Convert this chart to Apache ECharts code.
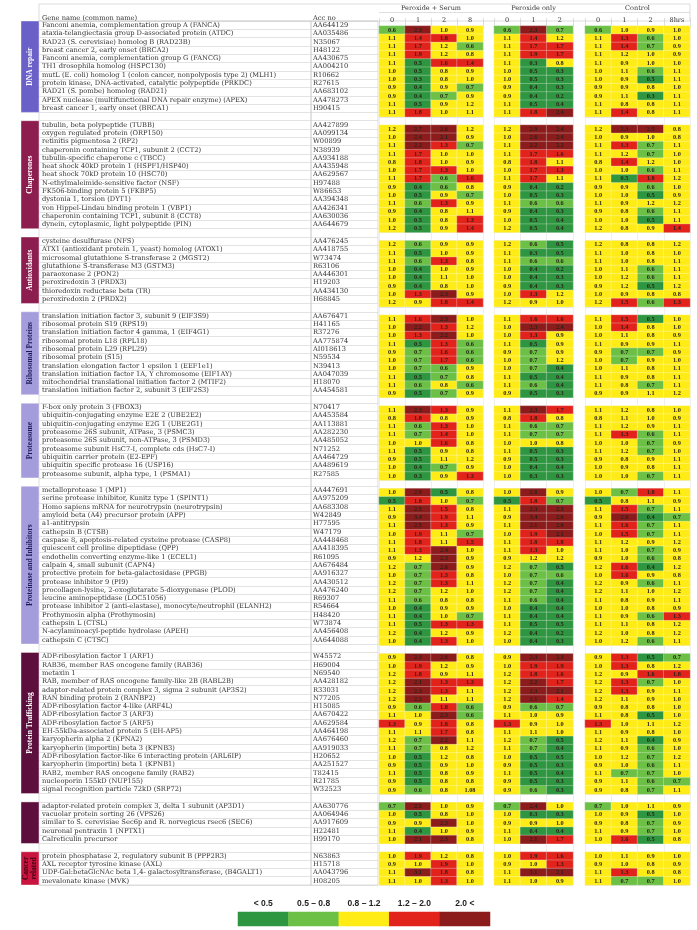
<!DOCTYPE html>
<html><head><meta charset="utf-8">
<script src="https://cdn.jsdelivr.net/npm/echarts@6/dist/echarts.min.js"></script>
<style>html,body{margin:0;padding:0;background:#fff}#c{width:697px;height:930px}</style>
</head><body><div id="c"></div><script>
// ---------------- DATA ----------------
const groupNames = ['DNA repair','Chaperones','Antioxidants','Ribosomal Proteins','Proteasome','Proteinase and Inhibitors','Protein Trafficking','','Cancer\nrelated'];
const groupSizes = [11,13,8,10,9,19,17,5,4];
const serumHours = ['0','1','2','8'];
const peroxideHours = ['0','1','2'];
const controlHours = ['0','1','2','8hrs'];
const blockTitles = ['Peroxide + Serum','Peroxide only','Control'];
const legendLabels = ['< 0.5','0.5 \u2013 0.8','0.8 \u2013 1.2','1.2 \u2013 2.0','2.0 <'];
const legendValues = [0.3,0.65,1.0,1.6,2.5];

const geneNames = [
'Fanconi anemia, complementation group A (FANCA)','ataxia-telangiectasia group D-associated protein (ATDC)','RAD23 (S. cerevisiae) homolog B (RAD23B)','breast cancer 2, early onset (BRCA2)','Fanconi anemia, complementation group G (FANCG)','TH1 drosophila homolog (HSPC130)','mutL (E. coli) homolog 1 (colon cancer, nonpolyposis type 2) (MLH1)','protein kinase, DNA-activated, catalytic polypeptide (PRKDC)','RAD21 (S. pombe) homolog (RAD21)','APEX nuclease (multifunctional DNA repair enzyme) (APEX)','breast cancer 1, early onset (BRCA1)',
'tubulin, beta polypeptide (TUBB)','oxygen regulated protein (ORP150)','retinitis pigmentosa 2 (RP2)','chaperonin containing TCP1, subunit 2 (CCT2)','tubulin-specific chaperone c (TBCC)','heat shock 40kD protein 1 (HSPF1/HSP40)','heat shock 70kD protein 10 (HSC70)','N-ethylmaleimide-sensitive factor (NSF)','FK506-binding protein 5 (FKBP5)','dystonia 1, torsion (DYT1)','von Hippel-Lindau binding protein 1 (VBP1)','chaperonin containing TCP1, subunit 8 (CCT8)','dynein, cytoplasmic, light polypeptide (PIN)',
'cysteine desulfurase (NFS)','ATX1 (antioxidant protein 1, yeast) homolog (ATOX1)','microsomal glutathione S-transferase 2 (MGST2)','glutathione S-transferase M3 (GSTM3)','paraoxonase 2 (PON2)','peroxiredoxin 3 (PRDX3)','thioredoxin reductase beta (TR)','peroxiredoxin 2 (PRDX2)',
'translation initiation factor 3, subunit 9 (EIF3S9)','ribosomal protein S19 (RPS19)','translation initiation factor 4 gamma, 1 (EIF4G1)','ribosomal protein L18 (RPL18)','ribosomal protein L29 (RPL29)','ribosomal protein (S15)','translation elongation factor 1 epsilon 1 (EEF1e1)','translation initiation factor 1A, Y chromosome (EIF1AY)','mitochondrial translational initiation factor 2 (MTIF2)','translation initiation factor 2, subunit 3 (EIF2S3)',
'F-box only protein 3 (FBOX3)','ubiquitin-conjugating enzyme E2E 2 (UBE2E2)','ubiquitin-conjugating enzyme E2G 1 (UBE2G1)','proteasome 26S subunit, ATPase, 3 (PSMC3)','proteasome 26S subunit, non-ATPase, 3 (PSMD3)','proteasome subunit HsC7-I, complete cds (HsC7-I)','ubiquitin carrier protein (E2-EPF)','ubiquitin specific protease 16 (USP16)','proteasome subunit, alpha type, 1 (PSMA1)',
'metalloprotease 1 (MP1)','serine protease inhibitor, Kunitz type 1 (SPINT1)','Homo sapiens mRNA for neurotrypsin (neurotrypsin)','amyloid beta (A4) precursor protein (APP)','a1-antitrypsin','cathepsin B (CTSB)','caspase 8, apoptosis-related cysteine protease (CASP8)','quiescent cell proline dipeptidase (QPP)','endothelin converting enzyme-like 1 (ECEL1)','calpain 4, small subunit (CAPN4)','protective protein for beta-galactosidase (PPGB)','protease inhibitor 9 (PI9)','procollagen-lysine, 2-oxoglutarate 5-dioxygenase (PLOD)','leucine aminopeptidase (LOC51056)','protease inhibitor 2 (anti-elastase), monocyte/neutrophil (ELANH2)','Prothymosin alpha (Prothymosin)','cathepsin L (CTSL)','N-acylaminoacyl-peptide hydrolase (APEH)','cathepsin C (CTSC)',
'ADP-ribosylation factor 1 (ARF1)','RAB36, member RAS oncogene family (RAB36)','metaxin 1','RAB, member of RAS oncogene family-like 2B (RABL2B)','adaptor-related protein complex 3, sigma 2 subunit (AP3S2)','RAN binding protein 2 (RANBP2)','ADP-ribosylation factor 4-like (ARF4L)','ADP-ribosylation factor 3 (ARF3)','ADP-ribosylation factor 5 (ARF5)','EH-55kDa-associated protein 5 (EH-AP5)','karyopherin alpha 2 (KPNA2)','karyopherin (importin) beta 3 (KPNB3)','ADP-ribosylation factor-like 6 interacting protein (ARL6IP)','karyopherin (importin) beta 1 (KPNB1)','RAB2, member RAS oncogene family (RAB2)','nucleoporin 155kD (NUP155)','signal recognition particle 72kD (SRP72)',
'adaptor-related protein complex 3, delta 1 subunit (AP3D1)','vacuolar protein sorting 26 (VPS26)','similar to S. cerevisiae Sec6p and R. norvegicus rsec6 (SEC6)','neuronal pentraxin 1 (NPTX1)','Calreticulin precursor',
'protein phosphatase 2, regulatory subunit B (PPP2R3)','AXL receptor tyrosine kinase (AXL)','UDP-Gal:betaGlcNAc beta 1,4- galactosyltransferase, (B4GALT1)','mevalonate kinase (MVK)'
];
const accNos = [
'AA644129','AA035486','N35067','H48122','AA430675','AA004210','R10662','R27615','AA683102','AA478273','H90415',
'AA427899','AA099134','W00899','N38939','AA934188','AA435948','AA629567','H97488','W86653','AA394348','AA426341','AA630036','AA644679',
'AA476245','AA418755','W73474','R63106','AA446301','H19203','AA434130','H68845',
'AA676471','H41165','R37276','AA775874','AI018613','N59534','N39413','AA047039','H18070','AA454581',
'N70417','AA453584','AA113881','AA282230','AA485052','N71252','AA464729','AA489619','R27585',
'AA447691','AA975209','AA683308','W42849','H77595','W47179','AA448468','AA418395','R61095','AA676484','AA916327','AA430512','AA476240','R69307','R54664','H48420','W73874','AA456408','AA644088',
'W45572','H69004','N69540','AA428182','R33031','N77205','H15085','AA670422','AA629584','AA464198','AA676460','AA919033','H20652','AA251527','T82415','R21785','W32523',
'AA630776','AA064946','AA917609','H22481','H99170',
'N63863','H15718','AA043796','H08205'
];
const serumValues = [
[0.6,2.3,1.0,0.9],[1.1,1.4,1.8,1.0],[1.1,1.7,1.2,0.6],[1.1,1.9,1.2,0.8],[1.1,0.5,1.6,1.4],[1.0,0.5,0.8,0.9],[1.0,0.3,0.8,1.0],[0.9,0.4,0.9,0.7],[0.9,0.4,0.7,0.9],[1.1,0.5,0.9,1.2],[1.1,1.8,1.0,1.1],
[1.2,2.7,2.6,1.2],[1.0,2.4,2.1,0.9],[1.1,2.2,1.3,0.7],[1.1,1.7,1.0,1.0],[0.8,1.8,1.0,0.9],[1.0,1.7,1.3,1.0],[1.1,1.7,0.6,1.6],[0.9,0.4,0.6,0.8],[1.0,0.5,0.9,0.7],[1.1,0.6,1.3,0.9],[0.9,0.4,0.8,1.1],[1.0,0.5,0.8,1.3],[1.2,0.5,0.9,1.4],
[1.2,0.6,0.9,0.9],[1.1,0.5,1.0,0.9],[1.1,0.6,1.3,0.8],[1.0,0.4,1.0,0.9],[1.0,0.4,1.1,1.0],[0.9,0.4,0.8,1.0],[1.0,1.3,2.3,0.9],[1.2,0.9,1.8,1.4],
[1.1,1.6,2.3,1.0],[1.0,2.2,1.3,1.2],[1.0,1.3,2.2,1.0],[1.1,0.5,1.3,0.6],[0.9,0.7,1.6,0.6],[1.0,0.7,1.7,0.6],[1.0,0.7,0.6,0.9],[1.1,0.5,0.7,0.8],[1.1,0.6,0.8,0.6],[0.9,0.5,0.7,0.9],
[1.1,2.3,1.3,0.9],[0.8,1.8,0.8,0.9],[1.1,0.6,1.3,1.0],[1.1,0.7,1.4,1.0],[1.0,1.0,1.6,0.8],[1.1,0.5,0.9,0.8],[0.9,0.5,1.1,1.2],[1.0,0.4,0.7,0.9],[1.0,0.3,0.9,1.3],
[1.0,2.9,0.5,0.8],[0.5,1.8,1.0,0.7],[1.1,2.5,1.5,0.8],[0.9,3.4,1.9,1.1],[1.1,2.5,1.3,0.9],[1.0,1.9,1.1,0.7],[1.1,1.8,1.1,1.5],[1.1,1.3,2.4,1.0],[0.9,1.2,2.3,0.9],[1.2,0.7,2.6,0.9],[1.0,0.7,1.3,0.8],[1.2,0.7,1.3,1.1],[1.2,0.7,1.2,1.0],[1.1,0.6,0.8,0.8],[1.0,0.4,0.9,0.9],[1.1,0.4,1.0,0.7],[1.1,0.5,1.3,1.3],[1.2,0.4,1.2,0.9],[1.0,0.4,1.3,1.0],
[0.9,2.3,2.6,0.8],[1.0,1.9,1.2,0.9],[1.2,1.8,0.9,1.1],[1.2,2.1,1.3,1.3],[1.2,2.3,1.3,1.1],[1.2,2.2,1.1,1.1],[0.9,0.6,1.8,0.6],[1.1,1.0,2.3,0.6],[1.3,0.9,1.8,0.8],[1.1,1.1,1.7,0.8],[1.2,0.7,2.2,1.1],[1.1,0.7,0.8,1.2],[1.0,0.5,1.2,0.8],[0.9,0.5,0.9,1.0],[1.1,0.5,0.8,0.9],[0.9,0.5,0.8,0.8],[0.9,0.6,0.8,1.08],
[0.7,2.5,1.0,0.9],[1.0,0.5,0.8,1.0],[0.9,0.9,2.3,1.0],[1.1,0.4,1.0,0.9],[1.0,2.1,2.3,0.8],
[1.0,1.9,1.2,0.8],[0.9,1.0,1.9,1.0],[1.1,3.1,1.8,0.8],[1.1,1.0,1.3,1.0]
];
const peroxideValues = [
[0.6,2.3,0.7],[1.1,1.4,1.2],[1.1,1.7,1.7],[1.1,1.9,1.7],[1.1,0.3,0.8],[1.0,0.5,0.3],[1.0,0.5,0.3],[0.9,0.4,0.3],[0.9,0.4,0.2],[1.1,0.5,0.4],[1.1,1.8,2.4],
[1.2,2.9,2.4],[1.0,2.6,2.4],[1.1,2.2,2.2],[1.1,1.7,1.6],[0.8,1.8,1.1],[1.0,1.7,1.3],[1.1,1.7,1.1],[0.9,0.4,0.2],[1.0,0.5,0.3],[1.1,0.6,0.6],[0.9,0.4,0.3],[1.0,0.5,0.4],[1.2,0.5,0.4],
[1.2,0.6,0.5],[1.1,0.3,0.5],[1.1,0.6,0.6],[1.0,0.4,0.2],[1.0,0.4,0.3],[0.9,0.4,0.3],[1.0,1.3,1.2],[1.2,0.9,1.0],
[1.1,1.6,1.6],[1.0,2.3,2.4],[1.0,1.3,0.9],[1.1,0.5,0.9],[0.9,0.7,0.9],[1.0,0.7,1.2],[1.0,0.7,0.4],[1.1,0.5,0.4],[1.1,0.6,0.4],[0.9,0.5,0.3],
[1.1,2.3,1.7],[0.8,1.8,0.8],[1.1,0.6,0.7],[1.1,0.7,0.7],[1.0,1.0,0.8],[1.1,0.5,0.3],[0.9,0.5,0.3],[1.0,0.4,0.4],[1.0,0.3,0.3],
[1.0,2.8,0.9],[0.5,1.8,0.7],[1.1,2.3,2.3],[0.9,3.4,2.6],[1.1,2.1,2.8],[1.0,1.9,2.1],[1.1,1.8,1.8],[1.1,1.3,1.0],[0.9,1.2,1.2],[1.2,0.7,0.5],[1.0,0.7,0.6],[1.2,0.7,0.4],[1.2,0.7,0.4],[1.1,0.6,0.4],[1.0,0.4,0.4],[1.1,0.4,0.4],[1.1,0.5,0.5],[1.2,0.4,0.2],[1.0,0.4,0.3],
[0.9,2.3,2.3],[1.0,1.9,1.9],[1.2,1.8,1.6],[1.2,2.2,1.7],[1.2,2.3,2.1],[1.2,2.1,1.4],[0.9,0.6,0.7],[1.1,1.0,0.9],[1.3,0.9,1.0],[1.1,1.1,1.0],[1.2,0.7,0.5],[1.1,0.7,0.4],[1.0,0.5,0.5],[0.9,0.5,0.3],[1.1,0.5,0.4],[0.9,0.5,0.3],[0.9,0.6,0.3],
[0.7,2.4,1.0],[1.0,0.3,0.3],[0.9,0.9,1.0],[1.1,0.4,0.4],[1.0,2.1,1.7],
[1.0,1.9,1.6],[0.9,1.0,1.3],[1.1,3.1,2.1],[1.1,1.0,0.9]
];
const controlValues = [
[0.6,1.0,0.9,1.0],[1.1,1.3,0.6,1.0],[1.1,1.4,0.7,0.9],[1.1,1.2,1.0,0.9],[1.1,0.9,1.0,1.0],[1.0,1.1,0.6,1.1],[1.0,0.9,0.5,1.1],[0.9,0.9,0.8,1.0],[0.9,1.1,0.3,1.1],[1.1,0.8,0.8,1.1],[1.1,1.4,0.8,1.1],
[1.2,2.3,2.5,0.8],[1.0,0.9,1.0,0.8],[1.1,1.3,0.7,1.1],[1.1,1.2,0.7,1.0],[0.8,1.4,1.2,1.0],[1.0,1.0,0.6,1.1],[1.1,0.5,1.8,1.2],[0.9,0.9,0.6,1.0],[1.0,1.0,0.5,0.9],[1.1,0.9,1.2,1.2],[0.9,0.8,0.6,1.1],[1.0,1.0,0.5,1.1],[1.2,0.8,0.9,1.4],
[1.2,0.8,0.8,1.2],[1.1,1.0,0.8,1.0],[1.1,1.0,0.8,1.1],[1.0,1.1,0.6,1.1],[1.0,1.2,0.6,1.1],[0.9,1.2,0.5,1.2],[1.0,0.9,0.8,0.8],[1.2,1.5,0.6,1.3],
[1.1,1.5,0.5,1.0],[1.0,1.4,0.8,1.0],[1.0,1.1,0.8,0.9],[1.1,0.9,0.9,1.1],[0.9,0.7,0.7,0.9],[1.0,0.7,0.9,1.0],[1.0,1.1,0.8,1.1],[1.1,0.9,0.8,1.1],[1.1,0.8,0.7,1.1],[0.9,0.9,1.1,1.2],
[1.1,1.2,0.8,1.0],[0.8,1.1,1.0,0.9],[1.1,1.2,0.9,1.1],[1.1,1.3,0.6,1.1],[1.0,1.0,0.7,0.9],[1.1,1.2,0.7,1.0],[0.9,0.8,0.9,1.1],[1.0,0.9,0.8,1.1],[1.0,1.0,0.7,1.1],
[1.0,0.7,1.8,1.1],[0.5,0.8,1.1,0.9],[1.1,1.5,0.7,1.1],[0.9,2.6,0.4,0.7],[1.1,1.6,0.7,1.1],[1.0,1.5,0.7,1.1],[1.1,1.2,0.9,1.2],[1.1,1.0,0.7,0.9],[0.9,1.0,0.6,0.8],[1.2,1.6,0.4,1.2],[1.0,1.6,0.9,0.8],[1.2,0.9,0.6,1.1],[1.2,1.1,1.0,1.2],[1.1,0.8,0.9,1.1],[1.0,1.0,0.8,0.9],[1.1,0.9,0.6,1.3],[1.1,1.1,0.8,1.2],[1.2,1.0,0.8,1.2],[1.0,1.2,0.6,1.1],
[0.9,1.3,0.5,0.7],[1.0,1.3,0.8,1.2],[1.2,0.9,1.6,1.8],[1.2,1.3,0.7,1.0],[1.2,1.3,0.9,1.1],[1.2,1.1,0.9,1.0],[0.9,0.8,0.8,1.0],[1.1,0.8,0.5,1.0],[1.3,1.0,1.1,1.2],[1.1,0.9,0.8,1.0],[1.2,1.1,0.4,0.9],[1.1,0.9,0.6,1.0],[1.0,1.2,0.7,1.2],[0.9,1.0,0.6,1.1],[1.1,0.7,0.7,1.0],[0.9,1.1,0.6,0.7],[0.9,0.8,0.7,1.1],
[0.7,1.0,1.1,0.9],[1.0,0.9,0.5,1.0],[0.9,0.8,0.7,0.9],[1.1,0.9,0.7,1.0],[1.0,1.6,0.5,0.8],
[1.0,1.1,0.9,1.0],[0.9,1.0,0.8,0.9],[1.1,1.3,0.8,0.8],[1.1,0.7,0.7,1.0]
];

// ---------------- STYLE / LAYOUT ----------------
const bandColors = ['#6a60c8','#8c1d4e','#8c1d4e','#a59ddb','#a59ddb','#a59ddb','#5c0e3d','#5c0e3d','#c8143e'];
const bandTextColors = ['#fff','#fff','#fff','#1c1a5a','#1c1a5a','#1c1a5a','#fff','#fff','#3a0010'];
const TOP = 21, HEIGHT = 864;
const FONT = 'Liberation Serif';
const TFONT = 'DejaVu Serif';

// build y categories with spacer rows between groups
const yCats = [], geneMap = {}, accMap = {}, rowIndex = [], bandData = [];
let r = 0;
groupSizes.forEach((n, g) => {
  if (g > 0) { const k = 'sp' + g; yCats.push(k); geneMap[k] = ''; accMap[k] = ''; }
  const start = yCats.length;
  for (let i = 0; i < n; i++) {
    const k = 'r' + r; yCats.push(k); geneMap[k] = geneNames[r]; accMap[k] = accNos[r];
    rowIndex.push(yCats.length - 1); r++;
  }
  bandData.push([0, start, yCats.length - 1, g]);
});

function cells(values) {
  const out = [];
  values.forEach((row, i) => row.forEach((v, c) => out.push([c, rowIndex[i], v])));
  return out;
}
function fmt(v) { return (Math.round(v * 10) === v * 10) ? v.toFixed(1) : String(v); }

const grids = [
  {left: 21, top: TOP, width: 18, height: HEIGHT},                     // band
  {left: 39, top: TOP, width: 272, height: HEIGHT, show: true, borderColor: '#c8c8c8', borderWidth: 0.6}, // gene
  {left: 311, top: TOP, width: 67, height: HEIGHT, show: true, borderColor: '#c8c8c8', borderWidth: 0.6}, // acc
  {left: 379, top: TOP, width: 104, height: HEIGHT},   // serum
  {left: 494, top: TOP, width: 79, height: HEIGHT},    // peroxide
  {left: 585, top: TOP, width: 105, height: HEIGHT},   // control
  {left: 238, top: 912, width: 252, height: 14}        // legend
];

function yAx(gi, extra) {
  return Object.assign({type: 'category', gridIndex: gi, data: yCats, inverse: true,
    axisLine: {show: false}, axisTick: {show: false}, axisLabel: {show: false}, splitLine: {show: false}}, extra || {});
}
const rowLines = {show: true, interval: 0, lineStyle: {color: '#d0d0d0', width: 0.6}};
const yAxes = [
  yAx(0),
  yAx(1, {splitLine: rowLines, axisLabel: {show: true, interval: 0, align: 'left', margin: -3, fontSize: 6.7, fontFamily: TFONT, color: '#333', formatter: v => geneMap[v]}}),
  yAx(2, {splitLine: rowLines, axisLabel: {show: true, interval: 0, align: 'left', margin: -2, fontSize: 6.7, fontFamily: TFONT, color: '#333', formatter: v => accMap[v]}}),
  yAx(3, {splitLine: rowLines}), yAx(4, {splitLine: rowLines}), yAx(5, {splitLine: rowLines}),
  {type: 'category', gridIndex: 6, data: ['legend'], show: false}
];
function xBlock(gi, cats, title) {
  return {type: 'category', gridIndex: gi, data: cats, position: 'top',
    axisLine: {show: true, lineStyle: {color: '#c8c8c8', width: 0.6}},
    axisTick: {show: true, length: 8, lineStyle: {color: '#c8c8c8', width: 0.6}},
    axisLabel: {fontSize: 6.5, fontFamily: TFONT, color: '#333', margin: 2},
    splitLine: {show: true, lineStyle: {color: '#e4e4e4', width: 0.6}},
    name: title, nameLocation: 'middle', nameGap: 13, nameTextStyle: {fontSize: 6.5, fontFamily: TFONT, color: '#333'}};
}
const xAxes = [
  {type: 'category', gridIndex: 0, data: ['band'], show: false},
  {type: 'value', gridIndex: 1, min: 0, max: 1, show: false},
  {type: 'value', gridIndex: 2, min: 0, max: 1, show: false},
  xBlock(3, serumHours, blockTitles[0]),
  xBlock(4, peroxideHours, blockTitles[1]),
  xBlock(5, controlHours, blockTitles[2]),
  {type: 'category', gridIndex: 6, data: legendLabels, position: 'top', axisLine: {show: false}, axisTick: {show: false},
    axisLabel: {fontSize: 8.5, fontWeight: 'bold', fontFamily: 'Liberation Sans Narrow, Liberation Sans', color: '#222', margin: 4}}
];

const cellLabel = {show: true, fontSize: 6.3, fontWeight: 'bold', fontFamily: FONT, color: '#2a2418', formatter: p => fmt(p.value[2])};
const cellStyle = {borderColor: 'rgba(255,255,255,0.55)', borderWidth: 0.5};
function heat(gi, values) {
  return {type: 'heatmap', xAxisIndex: gi, yAxisIndex: gi, data: cells(values), label: cellLabel, itemStyle: cellStyle,
    emphasis: {disabled: true}, animation: false};
}

const option = {
  animation: false,
  backgroundColor: '#fff',
  grid: grids, xAxis: xAxes, yAxis: yAxes,
  visualMap: {type: 'piecewise', show: false, seriesIndex: [1, 2, 3, 4], dimension: 2,
    pieces: [
      {lt: 0.55, color: '#2e9640'},
      {gte: 0.55, lt: 0.75, color: '#6cc046'},
      {gte: 0.75, lt: 1.25, color: '#ffec17'},
      {gte: 1.25, lt: 2.05, color: '#e2231c'},
      {gte: 2.05, color: '#8c1c1c'}
    ]},
  graphic: [
    {type: 'rect', shape: {x: 39, y: 4, width: 651, height: 17}, style: {fill: 'none', stroke: '#c8c8c8', lineWidth: 0.6}, silent: true},
    {type: 'line', shape: {x1: 379, y1: 12.5, x2: 690, y2: 12.5}, style: {stroke: '#c8c8c8', lineWidth: 0.6}, silent: true},
    {type: 'text', x: 42, y: 14.5, style: {text: 'Gene name (common name)', font: '6.7px ' + TFONT, fill: '#333'}, silent: true},
    {type: 'text', x: 313, y: 14.5, style: {text: 'Acc no', font: '6.7px ' + TFONT, fill: '#333'}, silent: true}
  ],
  series: [
    {type: 'custom', xAxisIndex: 0, yAxisIndex: 0, data: bandData, encode: {x: 0, y: [1, 2]}, silent: true,
      renderItem: (params, api) => {
        const s = api.value(1), e = api.value(2), g = api.value(3);
        const h = api.size([0, 1])[1];
        const a = api.coord([0, s]), b = api.coord([0, e]);
        const x = params.coordSys.x, w = params.coordSys.width;
        const y0 = a[1] - h / 2, y1 = b[1] + h / 2;
        return {type: 'group', children: [
          {type: 'rect', shape: {x: x, y: y0, width: w, height: y1 - y0}, style: {fill: bandColors[g], stroke: 'rgba(255,255,255,0.5)', lineWidth: 0.8}},
          {type: 'text', x: x + w / 2, y: (y0 + y1) / 2, rotation: Math.PI / 2,
            style: {text: groupNames[g], fill: bandTextColors[g], font: 'bold 7.5px ' + FONT, align: 'center', verticalAlign: 'middle', lineHeight: 8}}
        ]};
      }},
    heat(3, serumValues),
    heat(4, peroxideValues),
    heat(5, controlValues),
    {type: 'heatmap', xAxisIndex: 6, yAxisIndex: 6, data: legendValues.map((v, i) => [i, 0, v]), label: {show: false},
      itemStyle: {borderWidth: 0}, emphasis: {disabled: true}}
  ]
};
const chart = echarts.init(document.getElementById('c'), null, {renderer: 'canvas'});
chart.setOption(option);
</script></body></html>
